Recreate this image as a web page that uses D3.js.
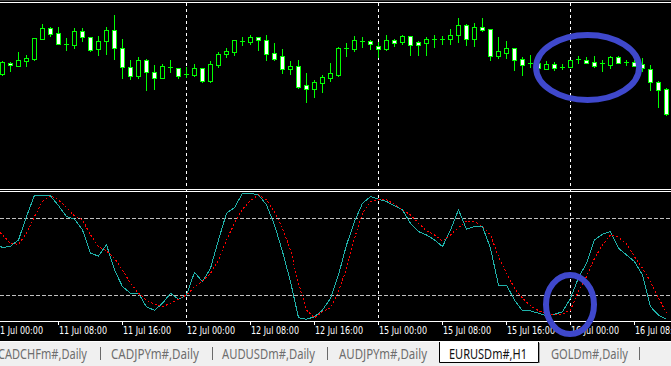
<!DOCTYPE html>
<html>
<head>
<meta charset="utf-8">
<script src="https://cdn.jsdelivr.net/npm/d3@7"></script>
<style>
  html, body { margin: 0; padding: 0; background: #000; overflow: hidden; }
  svg { display: block; }
</style>
</head>
<body>
<svg id="chart" width="671" height="366"></svg>
<script>
// EURUSD H1, 11 Jul 00:00 .. 16 Jul 12:00 (one entry per hourly bar)
const open = [
  1.3136, 1.3130, 1.3141, 1.3138, 1.3143, 1.3145, 1.3165, 1.3176, 1.3171, 1.3160,
  1.3159, 1.3173, 1.3167, 1.3155, 1.3163, 1.3174, 1.3156, 1.3137, 1.3128, 1.3144,
  1.3132, 1.3126, 1.3137, 1.3136, 1.3130, 1.3129, 1.3136, 1.3123, 1.3139, 1.3150,
  1.3152, 1.3163, 1.3162, 1.3167, 1.3164, 1.3151, 1.3148, 1.3135, 1.3138, 1.3119,
  1.3115, 1.3121, 1.3126, 1.3129, 1.3156, 1.3155, 1.3163, 1.3163, 1.3158, 1.3155,
  1.3164, 1.3162, 1.3168, 1.3162, 1.3161, 1.3165, 1.3165, 1.3165, 1.3169, 1.3179,
  1.3165, 1.3177, 1.3175, 1.3148, 1.3151, 1.3156, 1.3145, 1.3141, 1.3141, 1.3135,
  1.3140, 1.3137, 1.3137, 1.3145, 1.3144, 1.3142, 1.3141, 1.3139, 1.3147, 1.3142,
  1.3142, 1.3140, 1.3135, 1.3122, 1.3115
];
const high = [
  1.3138, 1.3143, 1.3142, 1.3152, 1.3149, 1.3166, 1.3180, 1.3177, 1.3177, 1.3166,
  1.3176, 1.3176, 1.3167, 1.3168, 1.3177, 1.3189, 1.3165, 1.3144, 1.3147, 1.3145,
  1.3139, 1.3140, 1.3144, 1.3136, 1.3137, 1.3140, 1.3136, 1.3143, 1.3152, 1.3156,
  1.3164, 1.3167, 1.3169, 1.3167, 1.3169, 1.3161, 1.3155, 1.3143, 1.3144, 1.3131,
  1.3124, 1.3129, 1.3141, 1.3157, 1.3161, 1.3168, 1.3167, 1.3164, 1.3162, 1.3169,
  1.3165, 1.3169, 1.3168, 1.3163, 1.3167, 1.3169, 1.3168, 1.3175, 1.3186, 1.3180,
  1.3181, 1.3186, 1.3175, 1.3167, 1.3163, 1.3156, 1.3147, 1.3149, 1.3141, 1.3143,
  1.3142, 1.3140, 1.3144, 1.3148, 1.3147, 1.3148, 1.3144, 1.3148, 1.3148, 1.3144,
  1.3144, 1.3146, 1.3139, 1.3123, 1.3116
];
const low = [
  1.3128, 1.3129, 1.3133, 1.3138, 1.3138, 1.3144, 1.3165, 1.3168, 1.3160, 1.3154,
  1.3156, 1.3163, 1.3153, 1.3149, 1.3150, 1.3145, 1.3126, 1.3125, 1.3126, 1.3114,
  1.3115, 1.3126, 1.3132, 1.3126, 1.3127, 1.3128, 1.3122, 1.3122, 1.3137, 1.3147,
  1.3149, 1.3159, 1.3160, 1.3154, 1.3144, 1.3144, 1.3131, 1.3130, 1.3116, 1.3102,
  1.3107, 1.3112, 1.3123, 1.3128, 1.3148, 1.3153, 1.3157, 1.3155, 1.3147, 1.3154,
  1.3158, 1.3160, 1.3149, 1.3149, 1.3149, 1.3157, 1.3160, 1.3160, 1.3162, 1.3159,
  1.3158, 1.3173, 1.3144, 1.3146, 1.3146, 1.3134, 1.3129, 1.3137, 1.3131, 1.3135,
  1.3134, 1.3135, 1.3137, 1.3141, 1.3141, 1.3137, 1.3133, 1.3136, 1.3141, 1.3139,
  1.3138, 1.3133, 1.3114, 1.3097, 1.3089
];
const close = [
  1.3130, 1.3142, 1.3139, 1.3144, 1.3146, 1.3166, 1.3176, 1.3170, 1.3160, 1.3160,
  1.3173, 1.3167, 1.3154, 1.3163, 1.3174, 1.3156, 1.3137, 1.3128, 1.3144, 1.3132,
  1.3126, 1.3138, 1.3137, 1.3128, 1.3130, 1.3136, 1.3123, 1.3140, 1.3150, 1.3153,
  1.3164, 1.3163, 1.3167, 1.3164, 1.3150, 1.3145, 1.3135, 1.3138, 1.3117, 1.3115,
  1.3122, 1.3127, 1.3131, 1.3156, 1.3156, 1.3164, 1.3163, 1.3160, 1.3155, 1.3164,
  1.3161, 1.3168, 1.3159, 1.3159, 1.3165, 1.3165, 1.3165, 1.3169, 1.3179, 1.3165,
  1.3177, 1.3174, 1.3148, 1.3153, 1.3156, 1.3144, 1.3139, 1.3141, 1.3136, 1.3140,
  1.3136, 1.3137, 1.3144, 1.3145, 1.3141, 1.3138, 1.3141, 1.3147, 1.3141, 1.3142,
  1.3138, 1.3136, 1.3122, 1.3114, 1.3090
];

// Stochastic oscillator, %K (main) and %D (signal)
const stochMain = [
  61.1, 56.9, 58.0, 62.9, 81.1, 97.7, 97.7, 97.2, 89.6, 81.1,
  79.0, 70.7, 52.5, 50.4, 59.2, 39.5, 26.5, 21.4, 21.4, 10.7,
  8.1, 13.6, 21.4, 16.7, 20.0, 37.7, 30.4, 40.8, 62.9, 83.7,
  88.1, 99.3, 99.3, 98.0, 90.2, 74.6, 53.8, 30.4, 2.3, 1.1,
  3.1, 8.3, 17.5, 35.6, 59.0, 77.2, 91.5, 96.7, 94.6, 92.8,
  89.6, 86.3, 75.9, 69.4, 66.8, 62.9, 57.7, 70.7, 86.3, 71.2,
  73.3, 73.3, 56.4, 27.8, 27.8, 16.1, 7.6, 7.6, 5.8, 3.7,
  5.0, 7.0, 17.5, 33.5, 44.7, 62.9, 67.3, 69.4, 56.4, 51.2,
  46.0, 35.6, 10.9, 4.4, 1.1
];
const stochSignal = [
  73.3, 66.8, 60.3, 59.5, 68.1, 81.1, 92.8, 97.2, 94.1, 88.1,
  81.6, 78.5, 66.8, 57.7, 54.3, 48.6, 39.5, 29.1, 21.4, 16.1,
  12.8, 10.9, 13.6, 16.7, 20.0, 26.5, 30.9, 36.9, 47.3, 62.9,
  75.9, 86.8, 93.5, 98.0, 94.1, 85.0, 72.0, 55.1, 29.1, 8.3,
  2.3, 7.0, 10.1, 22.6, 40.8, 64.2, 83.7, 92.8, 94.6, 94.1,
  90.7, 86.3, 82.4, 75.9, 69.9, 66.8, 62.1, 66.8, 72.5, 77.7,
  77.2, 73.3, 66.8, 49.9, 36.9, 25.3, 17.5, 11.7, 7.8, 5.2,
  4.4, 5.2, 8.3, 23.1, 34.3, 48.6, 59.0, 66.8, 65.0, 59.8,
  49.9, 40.8, 30.4, 17.9, 5.8
];
const stochLevels = [80, 20];

// time axis: bar index of each label, and the label text
const tickBars = [0, 8, 16, 24, 32, 40, 48, 56, 64, 72, 80];
const tickLabels = [
  "11 Jul 00:00", "11 Jul 08:00", "11 Jul 16:00", "12 Jul 00:00",
  "12 Jul 08:00", "12 Jul 16:00", "15 Jul 00:00", "15 Jul 08:00",
  "15 Jul 16:00", "16 Jul 00:00", "16 Jul 08:00"
];
const dayStarts = [24, 48, 72];

const tabLabels = ["CADCHFm#,Daily", "CADJPYm#,Daily", "AUDUSDm#,Daily",
  "AUDJPYm#,Daily", "EURUSDm#,H1", "GOLDm#,Daily"];
const activeTab = 4;

// hand-drawn marks: [bar, value, half width in bars, half height in value]
const priceMark = [74.2, 1.31365, 6.44, 0.00325];
const stochMark = [72, 12.6, 3, 23];

const svg = d3.select("#chart");
const width = +svg.attr("width");

const x = d3.scaleLinear().domain([0, 84]).range([-6, 666]);
const yPrice = d3.scaleLinear().domain([1.3020, 1.3200]).range([184, 4]);
const yStoch = d3.scaleLinear().domain([0, 100]).range([320.7, 192.3]);

svg.append("rect").attr("width", width).attr("height", 366).attr("fill", "#000");

// window borders
svg.append("line").attr("x1", 0).attr("x2", width).attr("y1", 0.5).attr("y2", 0.5)
  .attr("stroke", "#3c3c3c");
[2.5, 189.5, 191.5, 321.5].forEach(yy => {
  svg.append("line").attr("x1", 0).attr("x2", width).attr("y1", yy).attr("y2", yy)
    .attr("stroke", "#fff");
});

// period separators
svg.append("g").selectAll("line").data(dayStarts).join("line")
  .attr("x1", d => Math.round(x(d)) + 0.5).attr("x2", d => Math.round(x(d)) + 0.5)
  .attr("y1", 3).attr("y2", 321)
  .attr("stroke", "#fff").attr("stroke-dasharray", "3,3");

// stochastic levels
svg.append("g").selectAll("line").data(stochLevels).join("line")
  .attr("x1", 0).attr("x2", width)
  .attr("y1", d => Math.round(yStoch(d)) + 0.5).attr("y2", d => Math.round(yStoch(d)) + 0.5)
  .attr("stroke", "#c0c0c0").attr("stroke-dasharray", "4,2");

// candles
const candles = svg.append("g").attr("shape-rendering", "crispEdges");
open.forEach((o, i) => {
  const c = close[i];
  const cx = Math.round(x(i));
  const yh = Math.round(yPrice(high[i]));
  const yl = Math.round(yPrice(low[i]));
  const yTop = Math.round(yPrice(Math.max(o, c)));
  const yBot = Math.round(yPrice(Math.min(o, c)));
  candles.append("line")
    .attr("x1", cx + 0.5).attr("x2", cx + 0.5)
    .attr("y1", yh).attr("y2", yl + 1)
    .attr("stroke", "#00ff00");
  if (yBot - yTop < 1) {
    candles.append("line")
      .attr("x1", cx - 2).attr("x2", cx + 3)
      .attr("y1", yTop + 0.5).attr("y2", yTop + 0.5)
      .attr("stroke", "#00ff00");
  } else {
    candles.append("rect")
      .attr("x", cx - 1.5).attr("y", yTop + 0.5)
      .attr("width", 4).attr("height", yBot - yTop)
      .attr("fill", c < o ? "#fff" : "#000")
      .attr("stroke", "#00ff00");
  }
});

// stochastic lines
const stochLine = d3.line().x((d, i) => Math.round(x(i)) + 0.5).y(d => yStoch(d));
const ind = svg.append("g").attr("shape-rendering", "crispEdges");
ind.append("path").datum(stochMain)
  .attr("d", stochLine).attr("fill", "none")
  .attr("stroke", "#20b2aa").attr("stroke-width", 1);
ind.append("path").datum(stochSignal)
  .attr("d", stochLine).attr("fill", "none")
  .attr("stroke", "#ff0000").attr("stroke-width", 1).attr("stroke-dasharray", "2,2");

// time axis
const xAxis = d3.axisBottom(x)
  .tickValues(tickBars)
  .tickFormat((d, i) => tickLabels[i])
  .tickSize(4).tickSizeOuter(0);
const axisG = svg.append("g").attr("transform", "translate(0,321)").call(xAxis);
axisG.select(".domain").remove();
axisG.selectAll(".tick line").attr("stroke", "#fff");
axisG.selectAll(".tick text")
  .attr("x", 0.5).attr("y", 13).attr("dy", 0)
  .attr("text-anchor", "start")
  .attr("fill", "#fff")
  .attr("font-family", "DejaVu Sans, sans-serif")
  .attr("font-size", 10)
  .attr("textLength", 48).attr("lengthAdjust", "spacingAndGlyphs");

// tab bar
svg.append("rect").attr("x", 0).attr("y", 341).attr("width", width).attr("height", 25)
  .attr("fill", "#f0f0f0");
svg.append("line").attr("x1", 0).attr("x2", width).attr("y1", 341.5).attr("y2", 341.5)
  .attr("stroke", "#fff");
svg.append("rect").attr("x", 439).attr("y", 341).attr("width", 100).attr("height", 22)
  .attr("fill", "#fff");
svg.append("path").attr("d", "M439.5,342V362.5H538.5V342")
  .attr("fill", "none").attr("stroke", "#000");
svg.append("line").attr("x1", 539.5).attr("x2", 539.5).attr("y1", 343).attr("y2", 363)
  .attr("stroke", "#a0a0a0");

const tabX = [-2, 111, 222, 339, 449, 551];
const tabW = [89, 88, 93, 88, 78, 77];
svg.append("g").selectAll("text").data(tabLabels).join("text")
  .attr("x", (d, i) => tabX[i]).attr("y", 359)
  .attr("font-family", "Noto Sans, sans-serif").attr("font-size", 14.5)
  .attr("fill", (d, i) => i === activeTab ? "#111" : "#6d6d6d")
  .attr("textLength", (d, i) => tabW[i]).attr("lengthAdjust", "spacingAndGlyphs")
  .text(d => d);
svg.append("g").selectAll("line").data([100, 212, 327, 639]).join("line")
  .attr("x1", d => d + 0.5).attr("x2", d => d + 0.5)
  .attr("y1", 347).attr("y2", 360)
  .attr("stroke", "#6a6a6a");

// hand-drawn ellipses
const marks = svg.append("g").attr("fill", "none").attr("stroke", "#3f48cc").attr("stroke-width", 6);
marks.append("ellipse")
  .attr("cx", x(priceMark[0])).attr("cy", yPrice(priceMark[1]))
  .attr("rx", x(priceMark[2]) - x(0))
  .attr("ry", yPrice(priceMark[1] - priceMark[3]) - yPrice(priceMark[1]));
marks.append("ellipse")
  .attr("cx", x(stochMark[0])).attr("cy", yStoch(stochMark[1]))
  .attr("rx", x(stochMark[2]) - x(0))
  .attr("ry", yStoch(0) - yStoch(stochMark[3]));
</script>
</body>
</html>
